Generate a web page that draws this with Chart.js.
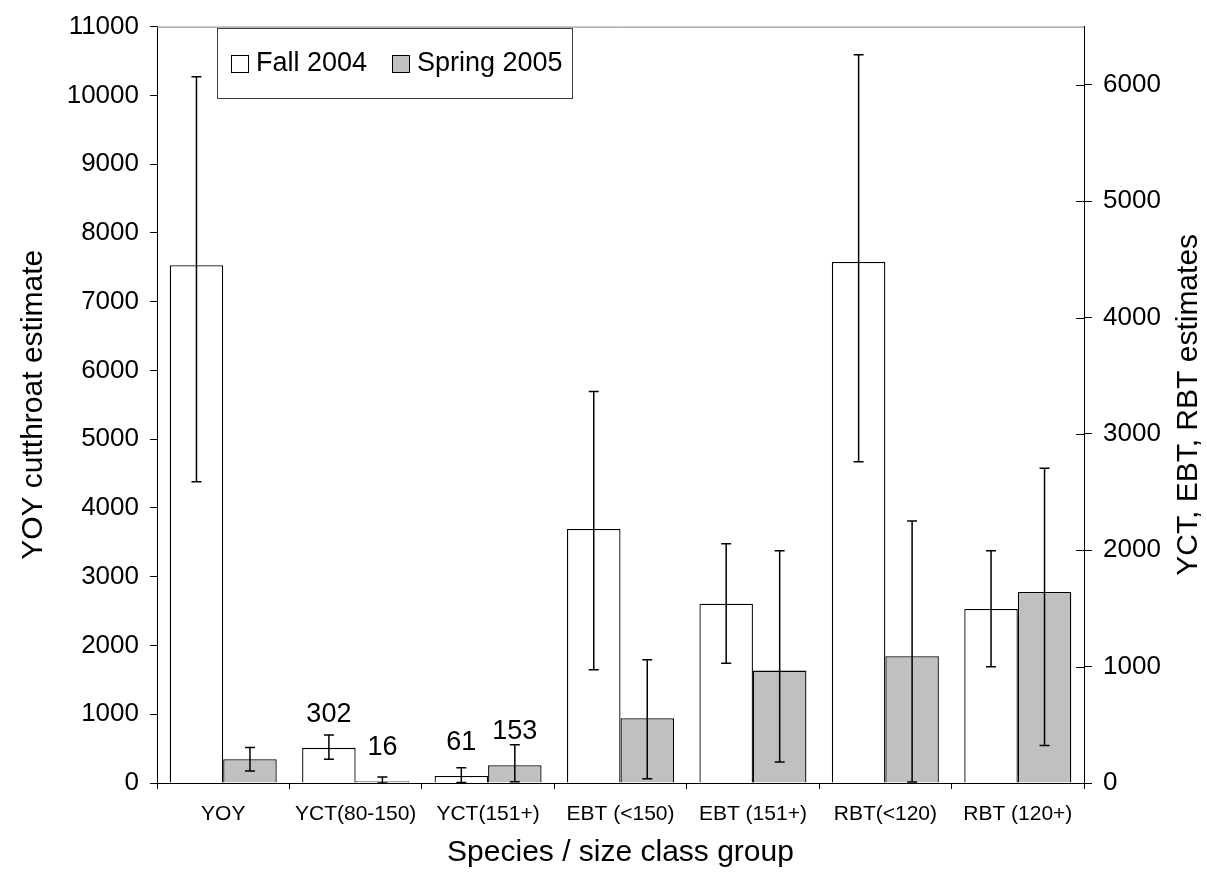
<!DOCTYPE html>
<html>
<head>
<meta charset="utf-8">
<title>Species / size class estimates</title>
<script src="https://cdn.jsdelivr.net/npm/chart.js@4.4.1/dist/chart.umd.min.js"></script>
<style>
    html, body { margin: 0; padding: 0; background: #fff; }
    #wrap { width: 1207px; height: 873px; }
</style>
</head>
<body>
<div id="wrap"><canvas id="fishChart" width="1207" height="873"></canvas></div>
<script>
// data
const categories = ['YOY', 'YCT(80-150)', 'YCT(151+)', 'EBT (<150)', 'EBT (151+)', 'RBT(<120)', 'RBT (120+)'];
const leftAxisGroups = ['YOY'];                       // plotted against the left axis
const labelledGroups = ['YCT(80-150)', 'YCT(151+)'];  // bars with a value printed above
const seriesNames = ['Fall 2004', 'Spring 2005'];

const fallValues = [7530, 302, 61, 2183, 1541, 4478, 1496];
const fallLow = [4380, 205, 5, 974, 1029, 2760, 1000];
const fallHigh = [10270, 413, 131, 3365, 2055, 6258, 1995];

const springValues = [347, 16, 153, 557, 966, 1089, 1641];
const springLow = [173, 0, 10, 37, 180, 9, 323];
const springHigh = [515, 51, 328, 1060, 1995, 2252, 2705];

const leftTicks = [0, 1000, 2000, 3000, 4000, 5000, 6000, 7000, 8000, 9000, 10000, 11000];
const rightTicks = [0, 1000, 2000, 3000, 4000, 5000, 6000];
const leftMax = 11000;
const rightMax = 6500;

const leftTitle = 'YOY cutthroat estimate';
const rightTitle = 'YCT, EBT, RBT estimates';
const xTitle = 'Species / size class group';

const FONT = '"Liberation Sans", Arial, Helvetica, sans-serif';
Chart.defaults.font.family = FONT;
Chart.defaults.color = '#000';

function makeDatasets(name, values, low, high, fill, stack) {
    const onLeft = (i) => leftAxisGroups.includes(categories[i]);
    const common = {
        label: name,
        stack: stack,
        backgroundColor: fill,
        borderColor: '#000',
        borderWidth: 1.3,
        errLow: low,
        errHigh: high
    };
    return [
        Object.assign({}, common, {data: values.map((v, i) => onLeft(i) ? v : null), yAxisID: 'y'}),
        Object.assign({}, common, {data: values.map((v, i) => onLeft(i) ? null : v), yAxisID: 'y2'})
    ];
}

const datasets = [].concat(
    makeDatasets(seriesNames[0], fallValues, fallLow, fallHigh, '#ffffff', 'fall'),
    makeDatasets(seriesNames[1], springValues, springLow, springHigh, '#c0c0c0', 'spring')
);

const overlay = {
    id: 'overlay',
    afterDatasetsDraw(chart) {
        const ctx = chart.ctx;
        ctx.save();
        chart.data.datasets.forEach((ds, di) => {
            const meta = chart.getDatasetMeta(di);
            const yScale = chart.scales[ds.yAxisID];
            meta.data.forEach((bar, i) => {
                if (ds.data[i] == null) return;
                const x = bar.x;
                const yLo = yScale.getPixelForValue(ds.errLow[i]);
                const yHi = yScale.getPixelForValue(ds.errHigh[i]);
                ctx.strokeStyle = '#000';
                ctx.lineWidth = 1.5;
                ctx.beginPath();
                ctx.moveTo(x, yLo);
                ctx.lineTo(x, yHi);
                ctx.moveTo(x - 5, yLo);
                ctx.lineTo(x + 5, yLo);
                ctx.moveTo(x - 5, yHi);
                ctx.lineTo(x + 5, yHi);
                ctx.stroke();

                if (labelledGroups.includes(categories[i])) {
                    ctx.fillStyle = '#000';
                    ctx.font = '27px ' + FONT;
                    ctx.textAlign = 'center';
                    ctx.textBaseline = 'alphabetic';
                    ctx.fillText(String(ds.data[i]), x, bar.y - 26);
                }
            });
        });
        ctx.restore();
    },
    afterDraw(chart) {
        const ctx = chart.ctx;
        const area = chart.chartArea;
        ctx.save();

        // grey frame line along the top of the plot
        ctx.strokeStyle = '#808080';
        ctx.lineWidth = 1;
        ctx.beginPath();
        ctx.moveTo(area.left, area.top + 0.5);
        ctx.lineTo(area.right, area.top + 0.5);
        ctx.stroke();

        // right axis ticks cross the axis line
        const y2 = chart.scales.y2;
        ctx.strokeStyle = '#000';
        ctx.beginPath();
        y2.ticks.forEach(t => {
            const py = Math.round(y2.getPixelForValue(t.value)) + 0.5;
            ctx.moveTo(area.right - 8, py);
            ctx.lineTo(area.right, py);
        });
        ctx.stroke();

        // legend box
        const lx = 217, ly = 28, lw = 355, lh = 70;
        ctx.strokeStyle = '#404040';
        ctx.strokeRect(lx + 0.5, ly + 0.5, lw, lh);
        ctx.font = '27px ' + FONT;
        ctx.textBaseline = 'middle';
        ctx.textAlign = 'left';
        const items = [
            {text: seriesNames[0], fill: datasets[0].backgroundColor, x: 231},
            {text: seriesNames[1], fill: datasets[2].backgroundColor, x: 392}
        ];
        items.forEach(it => {
            ctx.fillStyle = it.fill;
            ctx.fillRect(it.x, 55, 17, 17);
            ctx.strokeStyle = '#000';
            ctx.strokeRect(it.x + 0.5, 55.5, 17, 17);
            ctx.fillStyle = '#000';
            ctx.fillText(it.text, it.x + 25, 64);
        });

        // right axis title, reading bottom to top
        ctx.translate(1189, (area.top + area.bottom) / 2);
        ctx.rotate(-Math.PI / 2);
        ctx.font = '30px ' + FONT;
        ctx.textAlign = 'center';
        ctx.textBaseline = 'middle';
        ctx.fillStyle = '#000';
        ctx.fillText(rightTitle, 0, 0);
        ctx.restore();
    }
};

const plainNumber = (v) => String(v);

new Chart(document.getElementById('fishChart'), {
    type: 'bar',
    data: {labels: categories, datasets: datasets},
    options: {
        responsive: false,
        animation: false,
        layout: {padding: {top: 23, left: 0, right: 0, bottom: 0}},
        datasets: {bar: {categoryPercentage: 0.808, barPercentage: 1.0}},
        plugins: {legend: {display: false}, tooltip: {enabled: false}},
        scales: {
            x: {
                grid: {drawOnChartArea: false, offset: true, tickLength: 6, color: '#000'},
                border: {color: '#000', width: 1},
                ticks: {font: {size: 21}, color: '#000', padding: 13, maxRotation: 0, autoSkip: false},
                title: {display: true, text: xTitle, font: {size: 30}, color: '#000', padding: {top: 0, bottom: 2}},
                afterFit: (s) => { s.height = 90; }
            },
            y: {
                position: 'left',
                min: 0,
                max: leftMax,
                ticks: {font: {size: 26}, color: '#000', padding: 11, callback: plainNumber, autoSkip: false},
                grid: {drawOnChartArea: false, tickLength: 7, color: '#000'},
                border: {color: '#000', width: 1},
                title: {display: true, text: leftTitle, font: {size: 30}, color: '#000', padding: {top: 16, bottom: 0}},
                afterBuildTicks: (s) => { s.ticks = leftTicks.map(v => ({value: v})); },
                afterFit: (s) => { s.width = 157; }
            },
            y2: {
                position: 'right',
                min: 0,
                max: rightMax,
                ticks: {font: {size: 26}, color: '#000', padding: 11, callback: plainNumber, autoSkip: false},
                grid: {drawOnChartArea: false, tickLength: 8, color: '#000'},
                border: {color: '#000', width: 1},
                afterBuildTicks: (s) => { s.ticks = rightTicks.map(v => ({value: v})); },
                afterFit: (s) => { s.width = 123; }
            }
        }
    },
    plugins: [overlay]
});
</script>
</body>
</html>
